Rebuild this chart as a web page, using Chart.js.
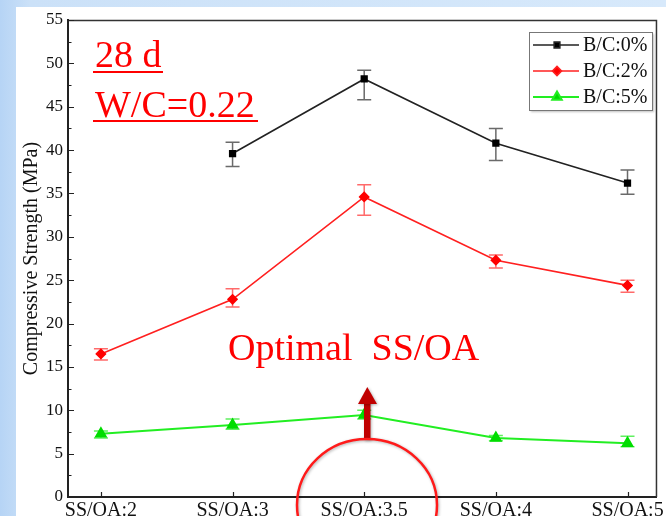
<!DOCTYPE html>
<html><head><meta charset="utf-8">
<script src="https://cdn.jsdelivr.net/npm/chart.js@4.4.0/dist/chart.umd.min.js"></script>
<style>
html,body{margin:0;padding:0;width:666px;height:516px;overflow:hidden;background:linear-gradient(to right,#b6d4f5 0px,#cbe1f8 30px,#d7e9fb 100%);}
#card{position:absolute;left:16px;top:7px;width:650px;height:509px;background:#fff;}
#wrap{position:absolute;left:0;top:0;width:666px;height:516px;}
</style></head><body>
<div id="card"></div>
<div id="wrap"><canvas id="c" width="666" height="516"></canvas></div>
<script>
const categories = ['SS/OA:2','SS/OA:3','SS/OA:3.5','SS/OA:4','SS/OA:5'];
const seriesNames = ['B/C:0%','B/C:2%','B/C:5%'];
const bc0   = [null, 39.6, 48.2, 40.8, 36.2];
const bc0Hi = [null, 40.9, 49.2, 42.5, 37.7];
const bc0Lo = [null, 38.1, 45.8, 38.8, 34.9];
const bc2   = [16.5, 22.8, 34.6, 27.3, 24.4];
const bc2Hi = [17.1, 24.0, 36.0, 27.9, 25.0];
const bc2Lo = [15.8, 21.9, 32.5, 26.4, 23.6];
const bc5   = [7.3, 8.3, 9.45, 6.8, 6.2];
const bc5Hi = [7.6, 9.0, 10.0, 7.1, 7.0];
const bc5Lo = [6.8, 7.8, 9.0, 6.5, 5.8];
const yTicks = [0,5,10,15,20,25,30,35,40,45,50,55];
const yTitle = 'Compressive Strength (MPa)';
const noteAge = '28 d';
const noteWC = 'W/C=0.22';
const noteOpt = 'Optimal  SS/OA';

const SERIF = "'Liberation Serif','Times New Roman',serif";
const toPts = arr => arr.map((v,i)=>({x:i,y:v}));

const errSets = [
  {hi:bc0Hi, lo:bc0Lo, color:'#6a6a6a'},
  {hi:bc2Hi, lo:bc2Lo, color:'#ff6a6a'},
  {hi:bc5Hi, lo:bc5Lo, color:'#60f060'}
];

const errorBars = {
  id:'errorBars',
  beforeDatasetsDraw(chart){
    const {ctx, scales:{x,y}} = chart;
    ctx.save();
    errSets.forEach(s=>{
      ctx.strokeStyle = s.color; ctx.lineWidth = 1.5;
      s.hi.forEach((h,i)=>{
        if(h==null) return;
        const px = x.getPixelForValue(i);
        const yh = y.getPixelForValue(h), yl = y.getPixelForValue(s.lo[i]);
        ctx.beginPath();
        ctx.moveTo(px,yh); ctx.lineTo(px,yl);
        ctx.moveTo(px-7,yh); ctx.lineTo(px+7,yh);
        ctx.moveTo(px-7,yl); ctx.lineTo(px+7,yl);
        ctx.stroke();
      });
    });
    ctx.restore();
  }
};

const frame = {
  id:'frame',
  beforeDatasetsDraw(chart){
    const {ctx, chartArea:a, scales:{x,y}} = chart;
    ctx.save();
    ctx.strokeStyle='#333'; ctx.lineWidth=1.5;
    ctx.beginPath();
    ctx.moveTo(a.left,a.top+0.5); ctx.lineTo(a.right,a.top+0.5); ctx.lineTo(a.right,a.bottom);
    ctx.stroke();
    ctx.strokeStyle='#222'; ctx.lineWidth=1.2;
    ctx.beginPath();
    yTicks.forEach(v=>{
      const py = Math.round(y.getPixelForValue(v))+0.5;
      ctx.moveTo(a.left,py); ctx.lineTo(a.left+6,py);
      if(v<55){
        const pm = Math.round(y.getPixelForValue(v+2.5))+0.5;
        ctx.moveTo(a.left,pm); ctx.lineTo(a.left+3.5,pm);
      }
    });
    categories.forEach((c,i)=>{
      const px = Math.round(x.getPixelForValue(i))+0.5;
      ctx.moveTo(px,a.bottom); ctx.lineTo(px,a.bottom-5);
    });
    ctx.stroke();
    ctx.restore();
  }
};

const overlay = {
  id:'overlay',
  afterDraw(chart){
    const {ctx} = chart;
    ctx.save();
    // legend
    ctx.fillStyle='#fff';
    ctx.shadowColor='rgba(0,0,0,0.25)'; ctx.shadowBlur=2; ctx.shadowOffsetX=1; ctx.shadowOffsetY=1;
    ctx.fillRect(529.5,32.5,123,78);
    ctx.shadowColor='transparent';
    ctx.strokeStyle='#777'; ctx.lineWidth=1;
    ctx.strokeRect(529.5,32.5,123,78);
    chart.data.datasets.forEach((ds,i)=>{
      const yy = 45 + 26*i;
      ctx.strokeStyle=ds.borderColor; ctx.lineWidth=ds.borderWidth;
      ctx.beginPath(); ctx.moveTo(533,yy); ctx.lineTo(579,yy); ctx.stroke();
      ctx.fillStyle=ds.pointBackgroundColor;
      Chart.helpers.drawPoint(ctx,{pointStyle:ds.pointStyle,radius:ds.pointRadius,rotation:0,borderWidth:1},557,yy);
      ctx.fillStyle='#111'; ctx.font='20px '+SERIF; ctx.textBaseline='middle'; ctx.textAlign='left';
      ctx.fillText(ds.label,583,yy+1);
    });
    // notes
    ctx.fillStyle='#ff0000'; ctx.strokeStyle='#ff0000';
    ctx.font='38px '+SERIF; ctx.textBaseline='alphabetic';
    ctx.fillText(noteAge,95,67);
    ctx.fillText(noteWC,95,117);
    ctx.lineWidth=2;
    ctx.beginPath();
    ctx.moveTo(93,72); ctx.lineTo(163,72);
    ctx.moveTo(93,121); ctx.lineTo(258,121);
    ctx.stroke();
    ctx.font='38px '+SERIF;
    ctx.fillText(noteOpt,228,360);
    // arrow
    ctx.fillStyle='#c00000';
    ctx.shadowColor='rgba(0,0,0,0.3)'; ctx.shadowBlur=3; ctx.shadowOffsetX=1; ctx.shadowOffsetY=1;
    ctx.fillRect(364,402,6.5,38);
    ctx.beginPath(); ctx.moveTo(358,404); ctx.lineTo(377,404); ctx.lineTo(367.3,387); ctx.closePath(); ctx.fill();
    // ellipse
    ctx.strokeStyle='#ff1a1a'; ctx.lineWidth=2.5;
    ctx.beginPath(); ctx.ellipse(367,505,70,66,0,0,Math.PI*2); ctx.stroke();
    ctx.restore();
  }
};

new Chart(document.getElementById('c'),{
  type:'line',
  data:{datasets:[
    {label:seriesNames[0],data:toPts(bc0),borderColor:'#222',backgroundColor:'#000',pointBackgroundColor:'#000',pointBorderColor:'#000',borderWidth:1.6,pointStyle:'rect',pointRadius:4,tension:0,spanGaps:false},
    {label:seriesNames[1],data:toPts(bc2),borderColor:'#ff2020',backgroundColor:'#ff0000',pointBackgroundColor:'#ff0000',pointBorderColor:'#ff0000',borderWidth:1.6,pointStyle:'rectRot',pointRadius:4.5,tension:0},
    {label:seriesNames[2],data:toPts(bc5),borderColor:'#22ee22',backgroundColor:'#00dd00',pointBackgroundColor:'#00dd00',pointBorderColor:'#00dd00',borderWidth:2,pointStyle:'triangle',pointRadius:5.5,tension:0}
  ]},
  options:{
    responsive:false, animation:false,
    layout:{padding:{top:20,right:4,left:0,bottom:0}},
    plugins:{legend:{display:false},tooltip:{enabled:false}},
    scales:{
      x:{type:'linear',min:-0.25,max:4.22,
        afterBuildTicks:s=>{s.ticks=categories.map((c,i)=>({value:i}));},
        ticks:{callback:v=>categories[v],font:{family:SERIF,size:20},color:'#111',padding:2,maxRotation:0,autoSkip:false},
        grid:{display:false,drawTicks:false},border:{display:true,color:'#222',width:2},
        afterFit:s=>{s.height=19;}
      },
      y:{min:0,max:55,
        afterBuildTicks:s=>{s.ticks=yTicks.map(v=>({value:v}));},
        ticks:{font:{family:SERIF,size:17},color:'#111',padding:5},
        grid:{display:false,drawTicks:false},border:{display:true,color:'#222',width:2},
        title:{display:true,text:yTitle,font:{family:SERIF,size:20},color:'#111',padding:{top:20,bottom:0}},
        afterFit:s=>{s.width=68;}
      }
    }
  },
  plugins:[frame,errorBars,overlay]
});
</script>
</body></html>
